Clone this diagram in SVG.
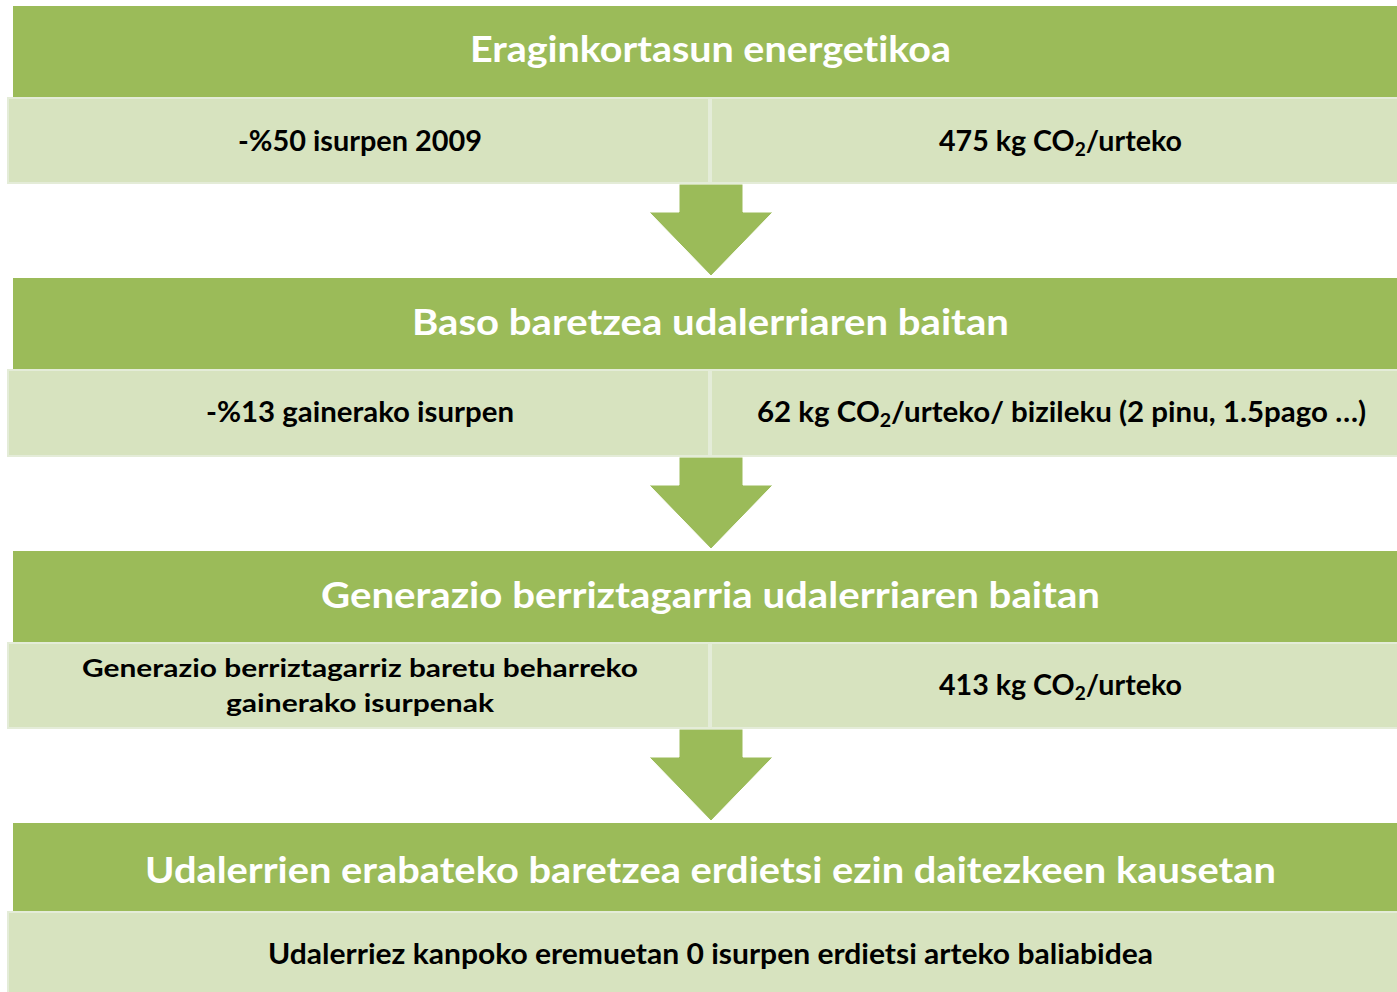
<svg xmlns="http://www.w3.org/2000/svg" width="1397" height="992" viewBox="0 0 1397 992">
<style>
.hdr{fill:#9BBB59;}
.cell{fill:#D7E3BF;stroke:#E4ECD8;stroke-width:2;}
.arrow{fill:#9BBB59;stroke:#FFFFFF;stroke-width:1;}
text{font-variant-ligatures:none;font-feature-settings:"liga" 0;}
.ht{font-family:Lato,"Open Sans","Liberation Sans",sans-serif;font-weight:700;font-size:36.5px;fill:#FFFFFF;text-anchor:middle;}
.ct{font-family:Lato,"Open Sans","Liberation Sans",sans-serif;font-weight:700;font-size:28.5px;fill:#000000;text-anchor:middle;}
.cs{font-family:Lato,"Open Sans","Liberation Sans",sans-serif;font-weight:700;font-size:24px;fill:#000000;text-anchor:middle;}
.sub{font-size:19px;}
</style>
<rect width="1397" height="992" fill="#FFFFFF"/>
<g id="connectors">
<polygon class="arrow" points="679,184 743,184 743,212 773,212 711,276 649,212 679,212"/>
<polygon class="arrow" points="679,457 743,457 743,485 773,485 711,549 649,485 679,485"/>
<polygon class="arrow" points="679,729 743,729 743,757 773,757 711,821 649,757 679,757"/>
</g>
<g id="header1">
<rect class="hdr" x="13" y="6" width="1390" height="91"/>
<text class="ht" x="710.5" y="62" textLength="481" lengthAdjust="spacingAndGlyphs">Eraginkortasun energetikoa</text>
</g>
<g id="row1-left">
<rect class="cell" x="8" y="98" width="701" height="85"/>
<text class="ct" x="360" y="151" textLength="244" lengthAdjust="spacingAndGlyphs">-%50 isurpen 2009</text>
</g>
<g id="row1-right">
<rect class="cell" x="711" y="98" width="692" height="85"/>
<text class="ct" x="1060.5" y="151" textLength="243" lengthAdjust="spacingAndGlyphs">475 kg CO<tspan class="sub" dy="5">2</tspan><tspan dy="-5">/urteko</tspan></text>
</g>
<g id="header2">
<rect class="hdr" x="13" y="278" width="1390" height="91"/>
<text class="ht" x="710.5" y="335" textLength="597" lengthAdjust="spacingAndGlyphs">Baso baretzea udalerriaren baitan</text>
</g>
<g id="row2-left">
<rect class="cell" x="8" y="370" width="701" height="86"/>
<text class="ct" x="360" y="422" textLength="308" lengthAdjust="spacingAndGlyphs">-%13 gainerako isurpen</text>
</g>
<g id="row2-right">
<rect class="cell" x="711" y="370" width="692" height="86"/>
<text class="ct" x="1061.5" y="422" textLength="609" lengthAdjust="spacingAndGlyphs">62 kg CO<tspan class="sub" dy="5">2</tspan><tspan dy="-5">/urteko/ bizileku (2 pinu, 1.5pago …)</tspan></text>
</g>
<g id="header3">
<rect class="hdr" x="13" y="551" width="1390" height="91"/>
<text class="ht" x="710.5" y="608" textLength="779" lengthAdjust="spacingAndGlyphs">Generazio berriztagarria udalerriaren baitan</text>
</g>
<g id="row3-left">
<rect class="cell" x="8" y="643" width="701" height="85"/>
<text class="cs" x="360" y="677" textLength="556" lengthAdjust="spacingAndGlyphs">Generazio berriztagarriz baretu beharreko</text>
<text class="cs" x="360" y="712" textLength="268" lengthAdjust="spacingAndGlyphs">gainerako isurpenak</text>
</g>
<g id="row3-right">
<rect class="cell" x="711" y="643" width="692" height="85"/>
<text class="ct" x="1060.5" y="695" textLength="243" lengthAdjust="spacingAndGlyphs">413 kg CO<tspan class="sub" dy="5">2</tspan><tspan dy="-5">/urteko</tspan></text>
</g>
<g id="header4">
<rect class="hdr" x="13" y="823" width="1390" height="88"/>
<text class="ht" x="710.5" y="883" textLength="1131" lengthAdjust="spacingAndGlyphs">Udalerrien erabateko baretzea erdietsi ezin daitezkeen kausetan</text>
</g>
<g id="row4">
<rect class="cell" x="8" y="912" width="1395" height="90"/>
<text class="ct" x="710.5" y="964" textLength="885" lengthAdjust="spacingAndGlyphs">Udalerriez kanpoko eremuetan 0 isurpen erdietsi arteko baliabidea</text>
</g>
</svg>
